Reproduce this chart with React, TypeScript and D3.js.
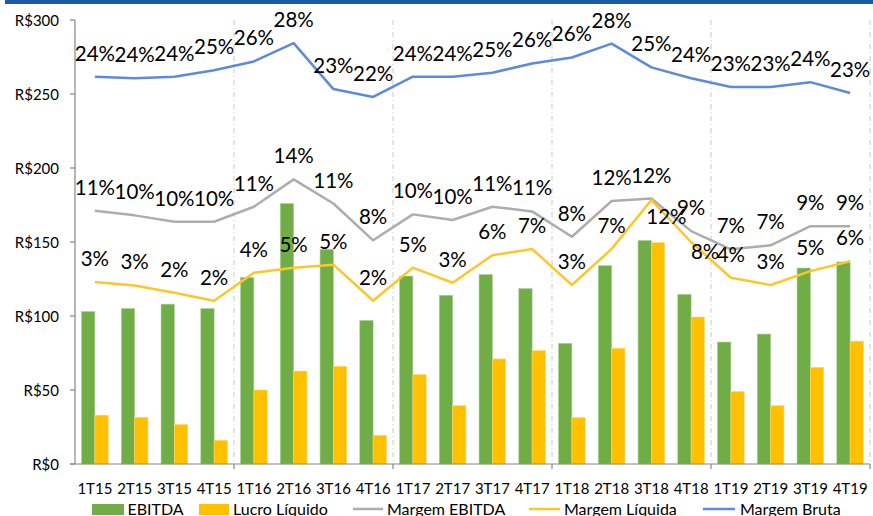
import React from "react";
import * as d3 from "d3";

const categories = ["1T15","2T15","3T15","4T15","1T16","2T16","3T16","4T16","1T17","2T17","3T17","4T17","1T18","2T18","3T18","4T18","1T19","2T19","3T19","4T19"];
const ebitda = [103,105,108,105,126,176,145,97,127,114,128,118.5,81.5,134,151,114.6,82.4,87.8,132.4,136.5];
const lucroLiquido = [33,31.5,26.6,16,50,62.8,66,19.4,60.4,39.4,71,76.6,31.3,78.2,149.5,99.3,49,39.4,65.3,83];
const margemBruta = [24.25,24.1,24.25,24.9,25.8,27.66,23.0,22.2,24.25,24.25,24.65,25.6,26.2,27.6,25.2,24.1,23.2,23.2,23.7,22.6];
const margemEbitda = [10.67,10.2,9.55,9.55,11.07,13.85,11.4,7.67,10.3,9.73,11.07,10.6,8.03,11.65,11.9,8.6,6.76,7.16,9.1,9.1];
const margemLiquida = [3.44,3.1,2.36,1.55,4.39,4.9,5.2,1.55,4.9,3.37,6.15,6.8,3.14,6.8,11.75,7.5,3.88,3.14,4.55,5.55];
const yTicks = [0,50,100,150,200,250,300];

const W = 873, H = 516;
const left = 75, right = 870, top = 20, bottom = 464;
const FONT = "Lato, 'Open Sans', sans-serif";

const GREEN = "#70AD47";
const YELLOW = "#FFC000";
const GRAY = "#ADADAD";
const BLUE = "#5B8BD9";
const LIQ_LINE = "#FFC629";

// label offsets for the few labels Excel placed differently (dx, dy from point)
const liquidaLabelOverride: Record<string, [number, number]> = {
  "3T18": [15, 24],
  "4T18": [14, 17],
};

export default function App() {
  const x = d3.scaleBand<string>().domain(categories).range([left, right]).padding(0);
  const step = x.step();
  const barW = step * 0.335;
  const cx = (c: string) => (x(c) as number) + step / 2;
  const y = d3.scaleLinear().domain([0, 300]).range([bottom, top]);
  const yp = d3.scaleLinear().domain([-15, 30]).range([bottom, top]);

  const line = (vals: number[]) =>
    d3.line<number>().x((_, i) => cx(categories[i])).y((v) => yp(v))(vals) as string;

  const dividers = [4, 8, 12, 16, 20].map((k) => left + k * step);

  const labels = (vals: number[], key: string, override?: Record<string, [number, number]>) =>
    vals.map((v, i) => {
      const c = categories[i];
      const o = override && override[c];
      const dx = o ? o[0] : 0;
      const dy = o ? o[1] : -16;
      return (
        <text key={key + i} x={cx(c) + dx} y={yp(v) + dy} textAnchor="middle" fontSize={20.5} fill="#000">
          {Math.round(v) + "%"}
        </text>
      );
    });

  return (
    <svg width={W} height={H} style={{ position: "absolute", left: 0, top: 0, background: "#fff" }} fontFamily={FONT}>
      <rect x={5} y={0} width={W - 5} height={4} fill="#1F5AA6" />

      {dividers.map((dx, i) => (
        <line key={"dv" + i} x1={dx} x2={dx} y1={top} y2={bottom} stroke="#C8C8C8" strokeWidth={1} strokeDasharray="5,3,1,3" />
      ))}

      {categories.map((c, i) => (
        <g key={"b" + i}>
          <rect x={cx(c) - barW} y={y(ebitda[i])} width={barW} height={bottom - y(ebitda[i])} fill={GREEN} stroke="#A9CF8F" strokeWidth={0.6} />
          <rect x={cx(c)} y={y(lucroLiquido[i])} width={barW} height={bottom - y(lucroLiquido[i])} fill={YELLOW} stroke="#FFD966" strokeWidth={0.6} />
        </g>
      ))}

      <line x1={left} x2={left} y1={top} y2={bottom} stroke="#868686" strokeWidth={1.2} />
      <line x1={left - 5} x2={right} y1={bottom} y2={bottom} stroke="#868686" strokeWidth={1.2} />
      {yTicks.map((t) => (
        <g key={"yt" + t}>
          <line x1={left - 5} x2={left} y1={y(t)} y2={y(t)} stroke="#868686" strokeWidth={1.2} />
          <text x={59} y={y(t) + 5.5} textAnchor="end" fontSize={15} fill="#000">{"R$" + t}</text>
        </g>
      ))}
      {dividers.map((dx, i) => (
        <line key={"xt" + i} x1={dx} x2={dx} y1={bottom} y2={bottom + 5} stroke="#868686" strokeWidth={1.2} />
      ))}
      {categories.map((c) => (
        <text key={"xl" + c} x={cx(c)} y={494} textAnchor="middle" fontSize={15} fill="#000">{c}</text>
      ))}

      <path d={line(margemBruta)} fill="none" stroke={BLUE} strokeWidth={2.5} strokeLinejoin="round" />
      <path d={line(margemEbitda)} fill="none" stroke={GRAY} strokeWidth={2.5} strokeLinejoin="round" />
      <path d={line(margemLiquida)} fill="none" stroke={LIQ_LINE} strokeWidth={2.5} strokeLinejoin="round" />

      {labels(margemBruta, "lb")}
      {labels(margemEbitda, "le")}
      {labels(margemLiquida, "ll", liquidaLabelOverride)}

      <g fontSize={16} fill="#000">
        <rect x={92} y={504} width={32} height={11} fill={GREEN} />
        <text x={127.5} y={515}>EBITDA</text>
        <rect x={199} y={504} width={30} height={11} fill={YELLOW} />
        <text x={233} y={515}>Lucro Líquido</text>
        <line x1={353} x2={383} y1={509} y2={509} stroke={GRAY} strokeWidth={2.5} />
        <text x={387} y={515}>Margem EBITDA</text>
        <line x1={529} x2={560} y1={509} y2={509} stroke={LIQ_LINE} strokeWidth={2.5} />
        <text x={564} y={515}>Margem Líquida</text>
        <line x1={703} x2={735} y1={509} y2={509} stroke={BLUE} strokeWidth={2.5} />
        <text x={740} y={515}>Margem Bruta</text>
      </g>
    </svg>
  );
}
